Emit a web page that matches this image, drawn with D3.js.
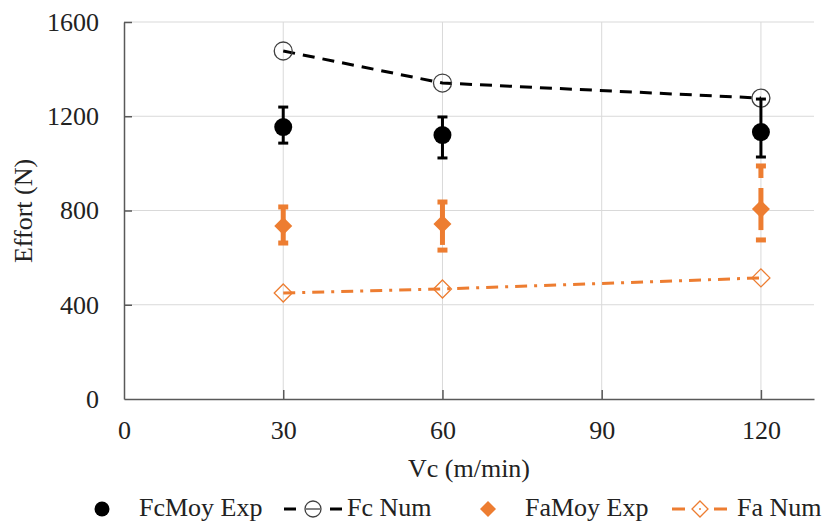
<!DOCTYPE html>
<html><head><meta charset="utf-8">
<script src="https://cdn.jsdelivr.net/npm/d3@7"></script>
<style>body{margin:0;background:#fff}svg{display:block}
svg text{font-family:"Liberation Serif","Tinos","Times New Roman","Nimbus Roman","Times","DejaVu Serif","Noto Serif",serif !important;fill:#222}</style>
</head><body><svg id="c" width="835" height="523"></svg>
<script>
const vc = [30, 60, 120];
const fcMoyExp = [1154, 1120, 1133];
const fcErrLow = [1086, 1023, 1027];
const fcErrHigh = [1239, 1197, 1273];
const fcNum = [1477, 1341, 1277];
const faMoyExp = [734, 743, 806];
const faErrLow = [662, 632, 675];
const faErrHigh = [815, 836, 989];
const faNum = [450, 467, 514];
const xTicks = [0, 30, 60, 90, 120];
const yTicks = [0, 400, 800, 1200, 1600];
const legendLabels = ["FcMoy Exp", "Fc Num", "FaMoy Exp", "Fa Num"];
const orange = "#ED7D31";
const FS = 26;

const svg = d3.select("#c");
const m = {l:124, r:814, t:22, b:399};
const x = d3.scaleLinear().domain([0,130]).range([m.l, m.r]);
const y = d3.scaleLinear().domain([0,1600]).range([m.b, m.t]);

// gridlines
svg.append("g").selectAll("line").data(yTicks.filter(d=>d>0)).join("line")
  .attr("x1", m.l).attr("x2", m.r).attr("y1", d=>y(d)).attr("y2", d=>y(d))
  .attr("stroke", "#d9d9d9").attr("stroke-width", 1);
svg.append("g").selectAll("line").data(xTicks.filter(d=>d>0)).join("line")
  .attr("y1", m.t).attr("y2", m.b).attr("x1", d=>x(d)).attr("x2", d=>x(d))
  .attr("stroke", "#d9d9d9").attr("stroke-width", 1);

// axes
const yAxis = svg.append("g").attr("transform", `translate(${m.l},0)`)
  .call(d3.axisLeft(y).tickValues(yTicks).tickFormat(d3.format("d")).tickSizeInner(-8).tickSizeOuter(0).tickPadding(25));
const xAxis = svg.append("g").attr("transform", `translate(0,${m.b})`)
  .call(d3.axisBottom(x).tickValues(xTicks).tickFormat(d3.format("d")).tickSizeInner(-9).tickSizeOuter(0).tickPadding(22));
[yAxis, xAxis].forEach(a=>{
  a.attr("font-family", null).attr("font-size", null);
  a.select(".domain").attr("stroke", "#595959").attr("stroke-width", 1.5);
  a.selectAll(".tick line").attr("stroke", "#595959").attr("stroke-width", 1.5);
  a.selectAll("text").attr("font-size", FS).attr("fill", "#222");
});
xAxis.selectAll(".tick").filter(d=>d===0).select("line").remove();
yAxis.selectAll(".tick").filter(d=>d===0).select("line").remove();

// axis titles
svg.append("text").attr("x", (m.l+m.r)/2).attr("y", 477).attr("text-anchor","middle")
  .attr("font-size", FS).text("Vc (m/min)");
svg.append("text").attr("transform", "translate(32,211) rotate(-90)").attr("text-anchor","middle")
  .attr("font-size", FS).text("Effort (N)");

// Fc Num line
svg.append("path").datum(vc.map((v,i)=>[v, fcNum[i]]))
  .attr("d", d3.line().x(d=>x(d[0])).y(d=>y(d[1])))
  .attr("fill","none").attr("stroke","#000").attr("stroke-width",3).attr("stroke-dasharray","12,8");
svg.append("g").selectAll("circle").data(vc).join("circle")
  .attr("cx", d=>x(d)).attr("cy", (d,i)=>y(fcNum[i])).attr("r", 9)
  .attr("fill","none").attr("stroke","#404040").attr("stroke-width",1.3);

// Fa Num line
svg.append("path").datum(vc.map((v,i)=>[v, faNum[i]]))
  .attr("d", d3.line().x(d=>x(d[0])).y(d=>y(d[1])))
  .attr("fill","none").attr("stroke",orange).attr("stroke-width",3).attr("stroke-dasharray","12,7,3,7");
const diamond = (cx, cy, s) => `M${cx},${cy-s}L${cx+s},${cy}L${cx},${cy+s}L${cx-s},${cy}Z`;
svg.append("g").selectAll("path").data(vc).join("path")
  .attr("d", (d,i)=>diamond(x(d), y(faNum[i]), 9))
  .attr("fill","none").attr("stroke",orange).attr("stroke-width",1.3);

// Fc error bars
const fcE = svg.append("g");
vc.forEach((v,i)=>{
  fcE.append("line").attr("x1",x(v)).attr("x2",x(v)).attr("y1",y(fcErrLow[i])).attr("y2",y(fcErrHigh[i]))
    .attr("stroke","#000").attr("stroke-width",3);
  [fcErrLow[i], fcErrHigh[i]].forEach(e=>{
    fcE.append("line").attr("x1",x(v)-5).attr("x2",x(v)+5).attr("y1",y(e)).attr("y2",y(e))
      .attr("stroke","#000").attr("stroke-width",3);
  });
});
svg.append("g").selectAll("circle").data(vc).join("circle")
  .attr("cx", d=>x(d)).attr("cy", (d,i)=>y(fcMoyExp[i])).attr("r", 9).attr("fill","#000");

// Fa error bars (dashed, each half drawn from the point outward)
const faE = svg.append("g");
vc.forEach((v,i)=>{
  [faErrLow[i], faErrHigh[i]].forEach(e=>{
    faE.append("line").attr("x1",x(v)).attr("x2",x(v)).attr("y1",y(faMoyExp[i])).attr("y2",y(e))
      .attr("stroke",orange).attr("stroke-width",5).attr("stroke-dasharray","21,10");
    faE.append("line").attr("x1",x(v)-5).attr("x2",x(v)+5).attr("y1",y(e)).attr("y2",y(e))
      .attr("stroke",orange).attr("stroke-width",5);
  });
});
svg.append("g").selectAll("path").data(vc).join("path")
  .attr("d", (d,i)=>diamond(x(d), y(faMoyExp[i]), 9)).attr("fill",orange);

// legend
const ly = 509, lt = 516;
const lg = svg.append("g");
lg.append("circle").attr("cx",102).attr("cy",ly).attr("r",7.5).attr("fill","#000");
lg.append("text").attr("x",139).attr("y",lt).attr("font-size",FS).text(legendLabels[0]);
lg.append("line").attr("x1",284).attr("x2",342).attr("y1",ly).attr("y2",ly)
  .attr("stroke","#000").attr("stroke-width",3).attr("stroke-dasharray","12,34");
lg.append("line").attr("x1",306).attr("x2",320).attr("y1",ly).attr("y2",ly)
  .attr("stroke","#404040").attr("stroke-width",1.3);
lg.append("circle").attr("cx",313).attr("cy",ly).attr("r",8).attr("fill","none").attr("stroke","#404040").attr("stroke-width",1.3);
lg.append("text").attr("x",347).attr("y",lt).attr("font-size",FS).text(legendLabels[1]);
lg.append("path").attr("d", diamond(488, ly, 8)).attr("fill",orange);
lg.append("text").attr("x",525).attr("y",lt).attr("font-size",FS).text(legendLabels[2]);
lg.append("line").attr("x1",672).attr("x2",727).attr("y1",ly).attr("y2",ly)
  .attr("stroke",orange).attr("stroke-width",3).attr("stroke-dasharray","13,29,13");
lg.append("path").attr("d", diamond(700, ly, 8)).attr("fill","none").attr("stroke",orange).attr("stroke-width",1.3);
lg.append("circle").attr("cx",700).attr("cy",ly).attr("r",1).attr("fill",orange);
lg.append("text").attr("x",737).attr("y",lt).attr("font-size",FS).text(legendLabels[3]);
</script></body></html>
